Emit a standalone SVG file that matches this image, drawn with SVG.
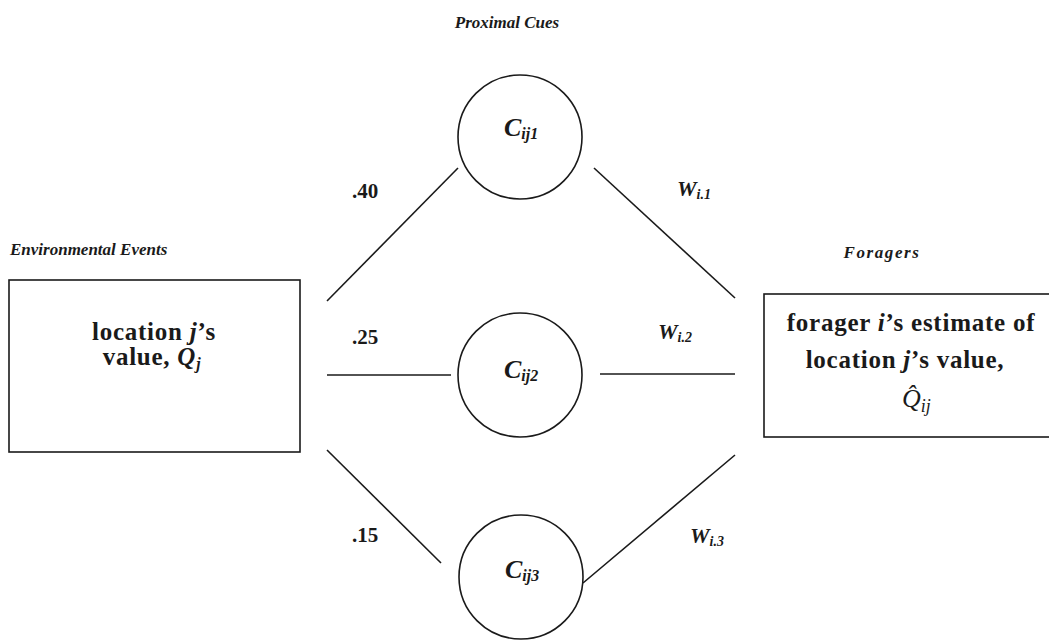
<svg xmlns="http://www.w3.org/2000/svg" width="1049" height="640" viewBox="0 0 1049 640">
<style>
.bg{fill:#fff}
.box{fill:#fff;stroke:#1a1a1a;stroke-width:1.6}
.cue{fill:#fff;stroke:#1a1a1a;stroke-width:1.6}
.ln{stroke:#1a1a1a;stroke-width:1.6;fill:none}
.t{font-family:"Liberation Serif","Times New Roman",serif;fill:#1a1a1a}
.hd{font-weight:bold;font-style:italic;font-size:17px}
.bx{font-weight:bold;font-size:25px;letter-spacing:0.75px}
.num{font-weight:bold;font-size:21px}
.w{font-weight:bold;font-style:italic;font-size:22px}
.c{font-weight:bold;font-style:italic;font-size:26px}
</style>
<rect class="bg" x="0" y="0" width="1049" height="640"/>
<text class="t hd" x="507" y="28" text-anchor="middle" font-size="18">Proximal Cues</text>
<text class="t hd" x="10" y="255">Environmental Events</text>
<text class="t hd" x="882" y="258" text-anchor="middle" font-size="19" letter-spacing="1.6">Foragers</text>
<g id="connectors">
<line class="ln" x1="327" y1="301" x2="458" y2="168"/>
<line class="ln" x1="327" y1="375" x2="451" y2="375"/>
<line class="ln" x1="327" y1="450" x2="441" y2="563"/>
<line class="ln" x1="594" y1="168" x2="735" y2="298"/>
<line class="ln" x1="600" y1="374" x2="735" y2="374"/>
<line class="ln" x1="583" y1="583" x2="735" y2="455"/>
<text class="t num" x="352" y="198">.40</text>
<text class="t num" x="352" y="344">.25</text>
<text class="t num" x="352" y="542">.15</text>
<text class="t w" x="677" y="196">W<tspan font-size="14" dy="3">i.1</tspan></text>
<text class="t w" x="658" y="339">W<tspan font-size="14" dy="3">i.2</tspan></text>
<text class="t w" x="690" y="543">W<tspan font-size="14" dy="3">i.3</tspan></text>
</g>
<g id="env">
<rect class="box" x="9" y="280" width="291" height="172"/>
<text class="t bx" x="154" y="340" text-anchor="middle">location <tspan font-style="italic">j</tspan>’s</text>
<text class="t bx" x="152" y="365" text-anchor="middle">value, <tspan font-style="italic">Q</tspan><tspan font-style="italic" font-size="16" dy="4">j</tspan></text>
</g>
<g id="forager">
<rect class="box" x="764" y="294" width="290" height="143"/>
<text class="t bx" x="911" y="331" text-anchor="middle">forager <tspan font-style="italic">i</tspan>’s estimate of</text>
<text class="t bx" x="905" y="368" text-anchor="middle">location <tspan font-style="italic">j</tspan>’s value,</text>
<text class="t" x="902" y="407" font-size="26" font-style="italic">Q̂<tspan font-size="18" dy="5">ij</tspan></text>
</g>
<g id="cue1">
<circle class="cue" cx="520" cy="137" r="62"/>
<text class="t c" x="504" y="136">C<tspan font-size="16" dy="3">ij1</tspan></text>
</g>
<g id="cue2">
<circle class="cue" cx="520" cy="375" r="62"/>
<text class="t c" x="504" y="378">C<tspan font-size="16" dy="3">ij2</tspan></text>
</g>
<g id="cue3">
<circle class="cue" cx="521" cy="577" r="62"/>
<text class="t c" x="505" y="578">C<tspan font-size="16" dy="3">ij3</tspan></text>
</g>
</svg>
